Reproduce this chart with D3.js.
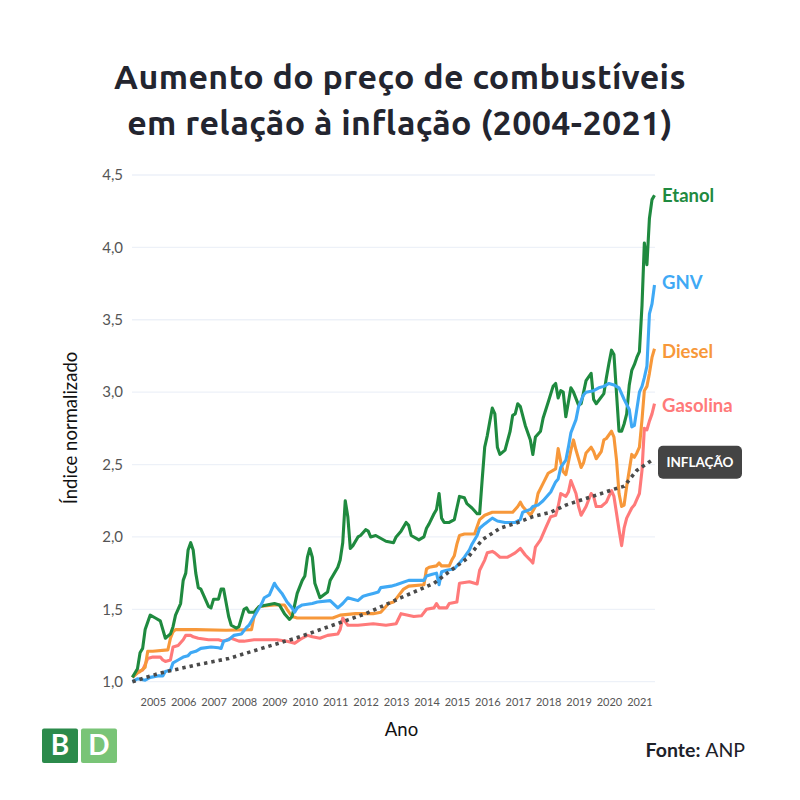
<!DOCTYPE html>
<html><head><meta charset="utf-8">
<script src="https://cdn.jsdelivr.net/npm/d3@7"></script>
<style>html,body{margin:0;padding:0;background:#fff;}</style>
</head><body>
<svg id="chart" width="800" height="800"></svg>
<script>
// ---- Data (índice normalizado, maio/2004 = 1,0) ----
const yearTicks = [2005,2006,2007,2008,2009,2010,2011,2012,2013,2014,2015,2016,2017,2018,2019,2020,2021];
const valueTicks = [1.0,1.5,2.0,2.5,3.0,3.5,4.0,4.5];
const seriesNames = ["Gasolina","Diesel","Etanol","GNV","INFLAÇÃO"];

const etanol = [
["2004-05",1.03],["2004-07",1.09],["2004-08",1.20],["2004-09",1.23],["2004-10",1.36],["2004-12",1.46],
["2005-02",1.44],["2005-04",1.42],["2005-06",1.30],["2005-08",1.33],["2005-09",1.38],["2005-10",1.46],["2005-12",1.54],
["2006-01",1.70],["2006-02",1.75],["2006-03",1.91],["2006-04",1.96],["2006-05",1.91],["2006-06",1.75],["2006-07",1.65],
["2006-08",1.64],["2006-09",1.60],["2006-11",1.52],["2006-12",1.51],
["2007-01",1.57],["2007-03",1.57],["2007-04",1.64],["2007-05",1.64],["2007-07",1.45],["2007-08",1.39],["2007-10",1.37],["2007-11",1.38],
["2008-01",1.50],["2008-02",1.51],["2008-03",1.48],["2008-05",1.48],["2008-07",1.52],
["2009-01",1.54],["2009-03",1.53],["2009-05",1.47],["2009-07",1.43],["2009-08",1.45],["2009-10",1.61],["2009-12",1.70],
["2010-01",1.73],["2010-02",1.86],["2010-03",1.92],["2010-04",1.86],["2010-05",1.68],["2010-07",1.58],["2010-10",1.62],["2010-11",1.70],
["2011-02",1.79],["2011-03",1.84],["2011-04",1.96],["2011-05",2.25],["2011-06",2.14],["2011-07",1.92],["2011-08",1.94],["2011-10",2.00],["2011-11",2.01],
["2012-01",2.05],["2012-02",2.04],["2012-03",2.00],["2012-05",2.01],["2012-09",1.97],["2012-12",1.96],
["2013-01",2.00],["2013-03",2.04],["2013-05",2.10],["2013-06",2.08],["2013-07",2.01],["2013-10",1.98],["2013-12",2.00],
["2014-01",2.06],["2014-02",2.09],["2014-04",2.16],["2014-05",2.19],["2014-06",2.30],["2014-07",2.13],["2014-08",2.10],["2014-10",2.10],["2014-12",2.12],
["2015-01",2.20],["2015-02",2.28],["2015-04",2.27],["2015-05",2.23],["2015-07",2.20],["2015-09",2.16],["2015-10",2.16],["2015-11",2.40],["2015-12",2.62],
["2016-01",2.70],["2016-02",2.80],["2016-03",2.89],["2016-04",2.85],["2016-05",2.62],["2016-06",2.57],["2016-08",2.60],["2016-10",2.73],["2016-11",2.84],["2016-12",2.85],
["2017-01",2.92],["2017-02",2.90],["2017-04",2.77],["2017-06",2.67],["2017-07",2.57],["2017-08",2.69],["2017-10",2.73],["2017-11",2.82],
["2018-01",2.93],["2018-03",3.04],["2018-04",3.06],["2018-05",2.96],["2018-06",3.01],["2018-07",3.00],["2018-08",2.83],["2018-10",3.03],["2018-11",3.00],
["2019-01",2.91],["2019-02",2.92],["2019-04",3.08],["2019-06",3.13],["2019-07",2.95],["2019-08",2.92],["2019-11",2.99],["2019-12",3.10],
["2020-01",3.20],["2020-02",3.29],["2020-03",3.26],["2020-04",2.99],["2020-05",2.73],["2020-06",2.73],["2020-07",2.78],["2020-08",2.85],
["2020-09",3.05],["2020-10",3.15],["2020-11",3.19],["2020-12",3.24],
["2021-01",3.28],["2021-02",3.60],["2021-03",4.03],["2021-04",3.88],["2021-05",4.20],["2021-06",4.33],["2021-07",4.36]
];

const gnv = [
["2004-05",1.00],["2004-07",1.02],["2004-10",1.01],["2004-12",1.03],
["2005-03",1.04],["2005-05",1.04],["2005-06",1.07],["2005-08",1.08],["2005-09",1.13],["2005-11",1.15],
["2006-01",1.17],["2006-03",1.18],["2006-04",1.20],["2006-06",1.21],["2006-08",1.23],["2006-12",1.24],
["2007-03",1.235],["2007-04",1.23],["2007-05",1.28],["2007-07",1.29],["2007-09",1.32],["2007-12",1.33],
["2008-02",1.375],["2008-03",1.39],["2008-06",1.48],["2008-08",1.54],["2008-09",1.58],["2008-11",1.60],["2008-12",1.64],
["2009-01",1.68],["2009-02",1.65],["2009-04",1.61],["2009-06",1.55],["2009-08",1.51],["2009-09",1.48],["2009-10",1.51],["2009-12",1.53],
["2010-04",1.54],["2010-06",1.55],["2010-11",1.56],
["2011-02",1.51],["2011-04",1.54],["2011-06",1.58],["2011-08",1.57],["2011-10",1.56],["2011-12",1.59],
["2012-02",1.60],["2012-04",1.61],["2012-06",1.62],["2012-07",1.65],["2012-11",1.66],
["2013-01",1.67],["2013-06",1.70],["2013-09",1.70],["2013-12",1.70],
["2014-01",1.73],["2014-03",1.74],["2014-05",1.75],["2014-06",1.67],["2014-07",1.76],["2014-09",1.77],["2014-12",1.78],
["2015-02",1.82],["2015-04",1.86],["2015-06",1.91],["2015-07",1.95],["2015-09",2.01],["2015-10",2.06],["2015-12",2.09],
["2016-03",2.13],["2016-05",2.11],["2016-08",2.10],["2016-12",2.10],
["2017-02",2.12],["2017-03",2.17],["2017-06",2.19],["2017-07",2.21],["2017-09",2.22],["2017-11",2.25],
["2018-02",2.31],["2018-04",2.38],["2018-05",2.40],["2018-06",2.48],["2018-08",2.53],["2018-09",2.62],["2018-10",2.72],["2018-12",2.81],
["2019-01",2.90],["2019-03",2.98],["2019-04",3.00],["2019-07",3.01],["2019-09",3.03],["2019-11",3.04],
["2020-01",3.06],["2020-03",3.05],["2020-05",3.03],["2020-07",2.95],["2020-09",2.88],["2020-10",2.76],["2020-11",2.77],
["2021-01",3.00],["2021-02",3.04],["2021-03",3.10],["2021-04",3.18],["2021-05",3.54],["2021-06",3.61],["2021-07",3.74]
];

const diesel = [
["2004-05",1.03],["2004-07",1.06],["2004-08",1.07],["2004-10",1.10],["2004-11",1.21],
["2005-01",1.21],["2005-07",1.22],["2005-08",1.30],["2005-09",1.345],["2005-10",1.36],
["2006-06",1.36],["2007-06",1.355],["2008-04",1.36],["2008-05",1.45],["2008-06",1.50],["2008-07",1.52],
["2009-01",1.53],["2009-05",1.53],["2009-06",1.50],["2009-08",1.45],["2009-10",1.44],
["2010-04",1.44],["2010-12",1.44],["2011-03",1.46],["2011-09",1.47],
["2012-04",1.47],["2012-07",1.48],["2012-09",1.52],["2012-10",1.54],["2012-12",1.55],
["2013-04",1.64],["2013-06",1.66],["2013-12",1.67],
["2014-01",1.78],["2014-02",1.79],["2014-05",1.80],["2014-06",1.82],["2014-07",1.80],["2014-10",1.80],["2014-11",1.84],["2014-12",1.87],
["2015-01",1.95],["2015-02",2.01],["2015-04",2.02],["2015-08",2.02],["2015-10",2.12],["2015-12",2.15],
["2016-03",2.17],["2016-11",2.17],
["2017-01",2.21],["2017-02",2.24],["2017-03",2.21],["2017-05",2.17],["2017-06",2.15],["2017-08",2.21],["2017-09",2.30],["2017-11",2.37],
["2018-01",2.44],["2018-03",2.46],["2018-04",2.47],["2018-05",2.61],["2018-06",2.52],["2018-07",2.45],["2018-08",2.43],["2018-10",2.60],["2018-11",2.67],["2018-12",2.60],
["2019-02",2.48],["2019-03",2.51],["2019-04",2.58],["2019-06",2.62],["2019-07",2.59],["2019-08",2.54],["2019-10",2.59],["2019-11",2.67],["2019-12",2.68],
["2020-02",2.73],["2020-03",2.69],["2020-04",2.53],["2020-05",2.30],["2020-06",2.21],["2020-07",2.22],["2020-08",2.35],["2020-09",2.46],["2020-10",2.57],["2020-11",2.55],["2020-12",2.58],
["2021-01",2.62],["2021-02",2.81],["2021-03",3.01],["2021-04",3.04],["2021-05",3.13],["2021-06",3.24],["2021-07",3.30]
];

const gasolina = [
["2004-05",1.03],["2004-07",1.07],["2004-09",1.08],["2004-11",1.16],
["2005-01",1.17],["2005-04",1.17],["2005-05",1.15],["2005-06",1.14],["2005-08",1.15],["2005-09",1.24],["2005-11",1.25],
["2006-01",1.29],["2006-02",1.32],["2006-04",1.32],["2006-05",1.31],["2006-07",1.30],["2006-11",1.29],
["2007-03",1.29],["2007-05",1.28],["2007-08",1.30],["2007-11",1.28],
["2008-01",1.28],["2008-05",1.29],["2008-11",1.29],
["2009-02",1.29],["2009-06",1.28],["2009-09",1.265],["2009-11",1.29],["2009-12",1.30],
["2010-02",1.32],["2010-04",1.31],["2010-07",1.30],["2010-10",1.32],
["2011-02",1.33],["2011-03",1.36],["2011-04",1.44],["2011-06",1.39],["2011-10",1.39],
["2012-04",1.40],["2012-09",1.39],
["2013-01",1.40],["2013-03",1.47],["2013-08",1.45],["2013-11",1.455],
["2014-01",1.50],["2014-04",1.51],["2014-05",1.54],["2014-06",1.51],["2014-09",1.51],["2014-10",1.54],
["2015-01",1.55],["2015-02",1.68],["2015-06",1.69],["2015-09",1.675],["2015-10",1.77],["2015-12",1.84],
["2016-01",1.89],["2016-03",1.90],["2016-04",1.89],["2016-06",1.86],["2016-09",1.86],["2016-12",1.89],
["2017-02",1.92],["2017-04",1.875],["2017-06",1.84],["2017-07",1.82],["2017-08",1.93],["2017-10",1.98],["2017-12",2.06],
["2018-02",2.14],["2018-04",2.15],["2018-05",2.21],["2018-06",2.30],["2018-08",2.28],["2018-09",2.31],["2018-10",2.39],["2018-12",2.30],
["2019-01",2.21],["2019-02",2.15],["2019-04",2.21],["2019-06",2.30],["2019-07",2.28],["2019-08",2.21],["2019-10",2.21],["2019-12",2.24],
["2020-02",2.32],["2020-03",2.28],["2020-05",2.05],["2020-06",1.94],["2020-07",2.06],["2020-08",2.13],["2020-10",2.20],["2020-11",2.22],["2020-12",2.26],
["2021-01",2.30],["2021-02",2.46],["2021-03",2.75],["2021-04",2.74],["2021-05",2.80],["2021-06",2.85],["2021-07",2.92]
];

const inflacao = [
["2004-05",1.00],["2005-04",1.06],["2006-06",1.115],["2007-07",1.16],["2008-08",1.23],["2009-11",1.31],
["2010-12",1.39],["2012-01",1.47],["2013-03",1.58],["2014-04",1.68],["2014-10",1.76],["2015-05",1.85],
["2015-11",1.98],["2016-06",2.06],["2017-01",2.10],["2017-07",2.14],["2018-02",2.17],["2018-08",2.22],
["2019-03",2.26],["2019-10",2.30],["2020-03",2.33],["2020-07",2.35],["2020-12",2.46],["2021-06",2.53]
];

// ---- Rendering ----
const parse = d3.timeParse("%Y-%m");
const svg = d3.select("#chart");
const colors = {Etanol:"#1f8a3f", GNV:"#3fa9f5", Diesel:"#f7983a", Gasolina:"#ff7a7a", "INFLAÇÃO":"#4a4a4a"};

const x = d3.scaleTime().domain([parse("2004-05"), parse("2021-07")]).range([132.4, 654.5]);
const y = d3.scaleLinear().domain([1, 4.5]).range([681.7, 175]);

const ptBR = d3.formatLocale({decimal:",", thousands:".", grouping:[3], currency:["R$",""]});
const fmt = ptBR.format(".1f");

// grid
svg.append("g").selectAll("line").data(valueTicks).join("line")
  .attr("x1",132).attr("x2",655).attr("y1",d=>y(d)).attr("y2",d=>y(d))
  .attr("stroke","#edf1f8").attr("stroke-width",1.3);

// y axis
const yAxis = d3.axisLeft(y).tickValues(valueTicks).tickFormat(fmt).tickSize(0).tickPadding(0);
const gy = svg.append("g").attr("transform","translate(123,0)").call(yAxis);
gy.select(".domain").remove();
gy.selectAll("text").attr("font-family","Lato").attr("font-size",15).attr("fill","#555");

// x axis
const xAxis = d3.axisBottom(x).tickValues(yearTicks.map(yr=>new Date(yr,0,1))).tickFormat(d3.timeFormat("%Y")).tickSize(0).tickPadding(0);
const gx = svg.append("g").attr("transform","translate(0,698)").call(xAxis);
gx.select(".domain").remove();
gx.selectAll("text").attr("font-family","Lato").attr("font-size",11).attr("fill","#555");

// lines
const line = d3.line().x(d=>x(parse(d[0]))).y(d=>y(d[1])).curve(d3.curveLinear);
const draw = [["Gasolina",gasolina],["Diesel",diesel],["Etanol",etanol],["GNV",gnv]];
draw.forEach(([name,data])=>{
  svg.append("path").datum(data).attr("d",line).attr("fill","none")
    .attr("stroke",colors[name]).attr("stroke-width",3.1).attr("stroke-linejoin","round");
});
svg.append("path").datum(inflacao).attr("d",line).attr("fill","none")
  .attr("stroke",colors["INFLAÇÃO"]).attr("stroke-width",3.6).attr("stroke-dasharray","3.4,4");

// series labels
const labels = [["Etanol",etanol],["GNV",gnv],["Diesel",diesel],["Gasolina",gasolina]];
const labelDy = {Etanol:0, GNV:-1, Diesel:3, Gasolina:0};
const labelY = {Etanol:4.36, GNV:3.75, Diesel:3.30, Gasolina:2.91};
labels.forEach(([name,data])=>{
  svg.append("text").attr("x",662).attr("y",y(labelY[name])+labelDy[name]).attr("dy","0.35em")
    .attr("font-family","Lato").attr("font-weight",700).attr("font-size",18.5)
    .attr("fill",colors[name]).text(name);
});
// inflation badge
const infY = y(inflacao[inflacao.length-1][1]) + 2;
svg.append("rect").attr("x",658).attr("y",infY-16.5).attr("width",84).attr("height",33).attr("rx",5)
  .attr("fill","#444");
svg.append("text").attr("x",700).attr("y",infY).attr("dy","0.36em").attr("text-anchor","middle")
  .attr("font-family","Lato").attr("font-weight",700).attr("font-size",13.5).attr("fill","#fff").text("INFLAÇÃO");

// title
const title = svg.append("text").attr("text-anchor","middle").attr("font-family","Ubuntu, 'Noto Sans', sans-serif")
  .attr("font-weight",700).attr("font-size",34).attr("letter-spacing",0.4).attr("fill","#23252f");
title.append("tspan").attr("x",400).attr("y",89).text("Aumento do preço de combustíveis");
title.append("tspan").attr("x",400).attr("y",135).text("em relação à inflação (2004-2021)");

// axis titles
svg.append("text").attr("transform","translate(77,428) rotate(-90)").attr("text-anchor","middle")
  .attr("font-family","Lato").attr("font-size",18.5).attr("fill","#111").text("Índice normalizado");
svg.append("text").attr("x",401.5).attr("y",736).attr("text-anchor","middle")
  .attr("font-family","Lato").attr("font-size",18.5).attr("fill","#111").text("Ano");

// logo
svg.append("rect").attr("x",42).attr("y",728.5).attr("width",36).attr("height",34.5).attr("rx",2).attr("fill","#2b8a4b");
svg.append("rect").attr("x",81).attr("y",728.5).attr("width",36).attr("height",34.5).attr("rx",2).attr("fill","#79c477");
svg.append("text").attr("x",60).attr("y",755).attr("text-anchor","middle")
  .attr("font-family","Lato").attr("font-weight",700).attr("font-size",28).attr("fill","#fff").text("B");
svg.append("text").attr("x",99).attr("y",755).attr("text-anchor","middle")
  .attr("font-family","Lato").attr("font-weight",700).attr("font-size",28).attr("fill","#fff").text("D");

// source
const src = svg.append("text").attr("x",745).attr("y",757).attr("text-anchor","end")
  .attr("font-family","Lato").attr("font-size",19.5).attr("fill","#1d2129");
src.append("tspan").attr("font-weight",700).text("Fonte: ");
src.append("tspan").attr("font-weight",400).text("ANP");
</script>
</body></html>
